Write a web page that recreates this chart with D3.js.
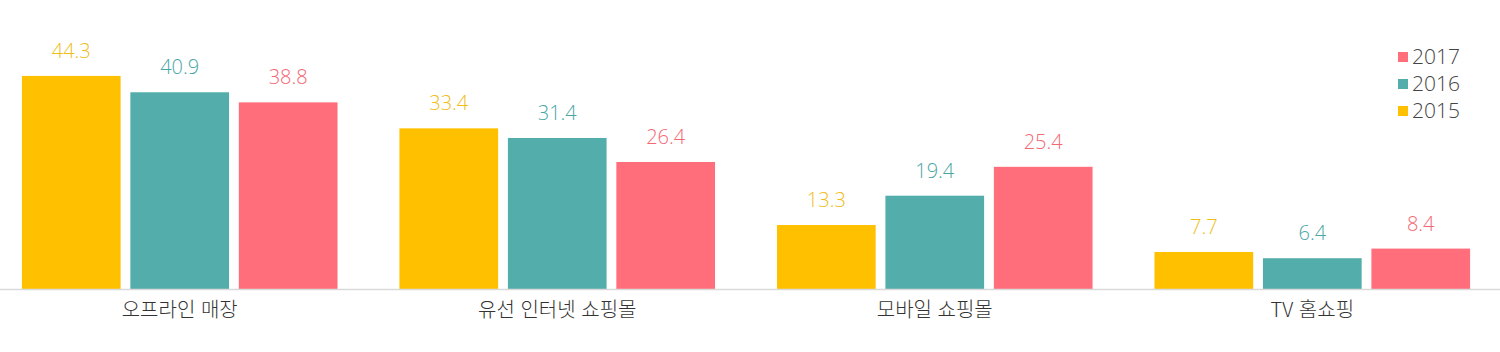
<!DOCTYPE html>
<html lang="ko">
<head>
    <meta charset="UTF-8">
    <title>쇼핑 채널별 비중</title>
    <script src="https://d3js.org/d3.v7.min.js"></script>
    <style>
        body { margin: 0; background: #fff; }
        text { font-family: "Noto Sans CJK KR", "Noto Sans", sans-serif; }
    </style>
</head>
<body>
<script>
    var categories = ["오프라인 매장", "유선 인터넷 쇼핑몰", "모바일 쇼핑몰", "TV 홈쇼핑"];
    var years = ["2015", "2016", "2017"];
    var values2015 = [44.3, 33.4, 13.3, 7.7];
    var values2016 = [40.9, 31.4, 19.4, 6.4];
    var values2017 = [38.8, 26.4, 25.4, 8.4];

    var seriesValues = [values2015, values2016, values2017];
    var barColors = ["#ffc000", "#53adab", "#ff6e7a"];
    var labelColors = ["#eebd18", "#4aa6a4", "#f26874"];

    var width = 1500, height = 352, baseline = 289;

    var svg = d3.select("body").append("svg")
        .attr("width", width)
        .attr("height", height);

    var x0 = d3.scaleBand()
        .domain(categories)
        .range([0, 1492])
        .paddingInner(0.164)
        .paddingOuter(0.058);

    var x1 = d3.scaleBand()
        .domain(years)
        .range([0, x0.bandwidth()])
        .paddingInner(0.09);

    var y = d3.scaleLinear()
        .domain([0, 50])
        .range([baseline, baseline - 240.5]);

    var rows = [];
    categories.forEach(function(c, i) {
        years.forEach(function(yr, j) {
            rows.push({cat: c, year: yr, idx: j, value: seriesValues[j][i]});
        });
    });

    // bars
    svg.selectAll("rect.bar")
        .data(rows)
        .enter()
        .append("rect")
        .attr("class", "bar")
        .attr("x", function(d) { return x0(d.cat) + x1(d.year); })
        .attr("y", function(d) { return y(d.value); })
        .attr("width", x1.bandwidth())
        .attr("height", function(d) { return baseline - y(d.value); })
        .style("fill", function(d) { return barColors[d.idx]; });

    // value labels
    svg.selectAll("text.val")
        .data(rows)
        .enter()
        .append("text")
        .attr("class", "val")
        .attr("x", function(d) { return x0(d.cat) + x1(d.year) + x1.bandwidth() / 2; })
        .attr("y", function(d) { return y(d.value) - 18; })
        .attr("text-anchor", "middle")
        .style("font-family", "'Open Sans', sans-serif")
        .style("font-weight", 300)
        .style("font-size", "20px")
        .style("fill", function(d) { return labelColors[d.idx]; })
        .text(function(d) { return d.value.toFixed(1); });

    // x axis
    var xAxis = svg.append("g")
        .attr("transform", "translate(0," + baseline + ")")
        .call(d3.axisBottom(x0).tickSize(0).tickPadding(14));
    xAxis.select(".domain").attr("d", "M0,0.5H" + width).attr("stroke", "#d9d9d9").attr("stroke-width", 1.5);
    xAxis.selectAll(".tick text")
        .style("font-size", "20px")
        .style("font-weight", 300)
        .style("fill", "#333")
        .style("font-family", "'Noto Sans CJK KR', sans-serif");

    // legend
    var legend = svg.append("g").attr("transform", "translate(1398,57)");
    var legendYears = years.slice().reverse();
    legendYears.forEach(function(yr, i) {
        var j = years.indexOf(yr);
        var g = legend.append("g").attr("transform", "translate(0," + (i * 27) + ")");
        g.append("rect")
            .attr("x", 0).attr("y", -5)
            .attr("width", 10).attr("height", 10)
            .style("fill", barColors[j]);
        g.append("text")
            .attr("x", 14).attr("y", 0)
            .attr("dy", "0.35em")
            .style("font-family", "'Open Sans', sans-serif")
            .style("font-weight", 300)
            .style("font-size", "21px")
            .style("fill", "#444")
            .text(yr);
    });
</script>
</body>
</html>
